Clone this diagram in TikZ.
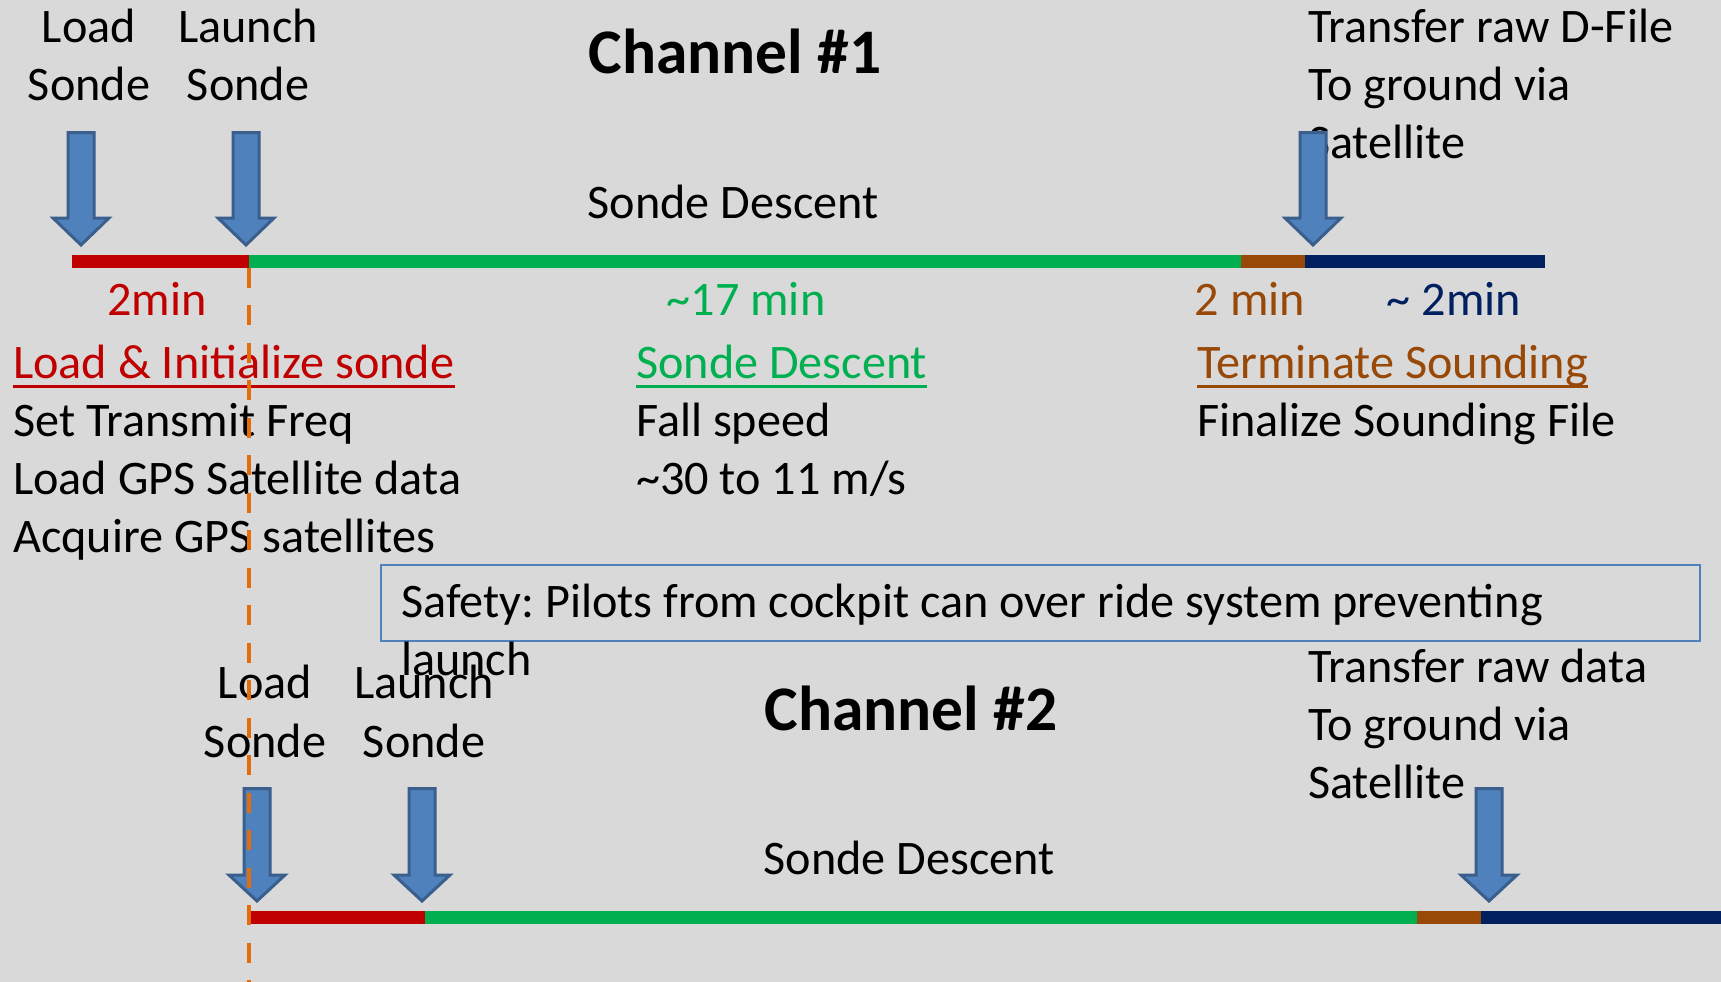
\documentclass[tikz,border=0pt]{standalone}
\usepackage{fontspec}
\setmainfont{Carlito}
\frenchspacing
\definecolor{bgc}{HTML}{D9D9D9}
\definecolor{cred}{HTML}{C00000}
\definecolor{cgreen}{HTML}{00B050}
\definecolor{cbrown}{HTML}{984807}
\definecolor{cnavy}{HTML}{002060}
\definecolor{corange}{HTML}{E46C0A}
\definecolor{afill}{HTML}{4F81BD}
\definecolor{aline}{HTML}{3A5F8C}
\definecolor{boxline}{HTML}{4F81BD}
\newcommand{\sondearrow}[4]{\draw[arrowsty] (#1-13,#2) -- (#1+13,#2) -- (#1+13,#3) -- (#1+28,#3) -- (#1,#4) -- (#1-28,#3) -- (#1-13,#3) -- cycle;}
\begin{document}
\begin{tikzpicture}[x=1pt,y=-1pt,
  txt/.style={inner sep=0pt, anchor=base, font=\fontsize{48.2}{57}\selectfont},
  txtl/.style={txt, anchor=base west},
  title/.style={inner sep=0pt, anchor=base, font=\fontsize{63.5}{75}\selectfont\bfseries},
  seg/.style={line width=13pt, line cap=butt},
  uline/.style={line width=3pt},
  arrowsty/.style={fill=afill, draw=aline, line width=3pt, line join=miter},
  dashline/.style={draw=corange, line width=4.5pt, dash pattern=on 20pt off 17.5pt},
  safebox/.style={draw=boxline, line width=2pt}]
\fill[bgc] (0,0) rectangle (1721,982);
\useasboundingbox (0,0) rectangle (1721,982);

% ---------- Channel 1 ----------
\node[title] (ch1) at (735,74) {Channel \#1};
\node[txt] (ld1a) at (89,43) {Load};
\node[txt] (ld1b) at (89,100) {Sonde};
\node[txt] (la1a) at (248,43) {Launch};
\node[txt] (la1b) at (248,100) {Sonde};
\node[txtl] (tr1a) at (1308,43) {Transfer raw D-File};
\node[txtl] (tr1b) at (1308,100) {To ground via};
\node[txtl] (tr1c) at (1308,158) {Satellite};
\node[txt] (sd1) at (733,218) {Sonde Descent};

\coordinate (a1) at (72,261);
\coordinate (a2) at (249,261);
\coordinate (a3) at (1241,261);
\coordinate (a4) at (1305,261);
\coordinate (a5) at (1545,261);
\draw[seg, cred] (a1) -- (a2);
\draw[seg, cgreen] (a2) -- (a3);
\draw[seg, cbrown] (a3) -- (a4);
\draw[seg, cnavy] (a4) -- (a5);

\node[txt, text=cred] (m1) at (157,315) {2min};
\node[txt, text=cgreen] (m2) at (746,315) {\textasciitilde17 min};
\node[txt, text=cbrown] (m3) at (1250,315) {2 min};
\node[txt, text=cnavy] (m4) at (1454,315) {\textasciitilde{} 2min};

\node[txtl, text=cred] (h1) at (13,378) {Load \& Initialize sonde};
\draw[uline, cred] ([yshift=-8pt]h1.base west) -- ([yshift=-8pt]h1.base east);
\node[txtl] (h1a) at (13,436) {Set Transmit Freq};
\node[txtl] (h1b) at (13,494) {Load GPS Satellite data};
\node[txtl] (h1c) at (13,552) {Acquire GPS satellites};

\node[txtl, text=cgreen] (h2) at (636,378) {Sonde Descent};
\draw[uline, cgreen] ([yshift=-8pt]h2.base west) -- ([yshift=-8pt]h2.base east);
\node[txtl] (h2a) at (636,436) {Fall speed};
\node[txtl] (h2b) at (636,494) {\textasciitilde30 to 11 m/s};

\node[txtl, text=cbrown] (h3) at (1197,378) {Terminate Sounding};
\draw[uline, cbrown] ([yshift=-8pt]h3.base west) -- ([yshift=-8pt]h3.base east);
\node[txtl] (h3a) at (1197,436) {Finalize Sounding File};

\sondearrow{81}{132.5}{218}{245}
\sondearrow{246}{132.5}{218}{245}
\sondearrow{1313}{132.5}{218}{245}

% ---------- Safety box ----------
\coordinate (sb1) at (381,565);
\coordinate (sb2) at (1700,641);
\draw[safebox] (sb1) rectangle (sb2);
\node[txtl] (sf1) at (401,617) {Safety: Pilots from cockpit can over ride system preventing};
\node[txtl] (sf2) at (401,675) {launch};

% ---------- Channel 2 ----------
\node[title] (ch2) at (911,730) {Channel \#2};
\node[txt] (ld2a) at (265,698) {Load};
\node[txt] (ld2b) at (265,757) {Sonde};
\node[txt] (la2a) at (424,698) {Launch};
\node[txt] (la2b) at (424,757) {Sonde};
\node[txtl] (tr2a) at (1308,682) {Transfer raw data};
\node[txtl] (tr2b) at (1308,740) {To ground via};
\node[txtl] (tr2c) at (1308,798) {Satellite};
\node[txt] (sd2) at (909,874) {Sonde Descent};

\coordinate (b1) at (250,917);
\coordinate (b2) at (425,917);
\coordinate (b3) at (1417,917);
\coordinate (b4) at (1481,917);
\coordinate (b5) at (1721,917);
\draw[seg, cred] (b1) -- (b2);
\draw[seg, cgreen] (b2) -- (b3);
\draw[seg, cbrown] (b3) -- (b4);
\draw[seg, cnavy] (b4) -- (b5);

\sondearrow{257}{788.5}{875}{901}
\sondearrow{422}{788.5}{875}{901}
\sondearrow{1489}{788.5}{875}{901}

% ---------- dashed marker ----------
\coordinate (d1) at (249,267.5);
\coordinate (d2) at (249,982);
\draw[dashline] (d1) -- (d2);
\end{tikzpicture}
\end{document}
